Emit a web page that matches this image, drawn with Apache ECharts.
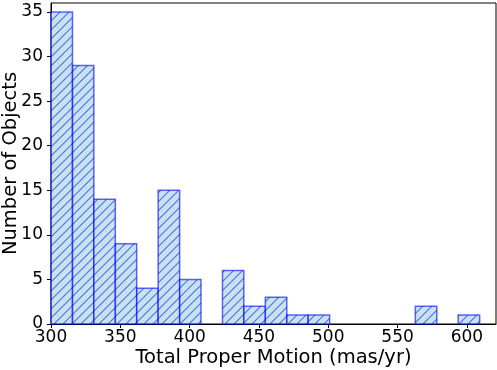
<!DOCTYPE html>
<html>
<head>
<meta charset="utf-8">
<script src="https://cdn.jsdelivr.net/npm/echarts@6/dist/echarts.min.js"></script>
<style>
html,body{margin:0;padding:0;background:#fff;}
#chart{width:497px;height:370px;}
</style>
</head>
<body>
<div id="chart"></div>
<script>
// Histogram bin edges (mas/yr) and counts
const binEdges = [300, 315.5, 330.9, 346.4, 361.8, 377.3, 392.8, 408.2, 423.7, 439.1, 454.6, 470.1, 485.5, 501.0, 516.4, 531.9, 547.4, 562.8, 578.3, 593.7, 609.2];
const counts = [35, 29, 14, 9, 4, 15, 5, 0, 6, 2, 3, 1, 1, 0, 0, 0, 0, 2, 0, 1];
const xTicks = [300, 350, 400, 450, 500, 550, 600];
const yTicks = [0, 5, 10, 15, 20, 25, 30, 35];

const data = counts.map((c, i) => [binEdges[i], binEdges[i + 1], c]);

// hatch pattern tile
const tile = document.createElement('canvas');
const T = 9;
tile.width = T; tile.height = T;
const ctx = tile.getContext('2d');
ctx.fillStyle = 'rgba(173,216,230,0.7)';
ctx.fillRect(0, 0, T, T);
ctx.strokeStyle = 'rgba(0,0,255,0.55)';
ctx.lineWidth = 1.1;
ctx.beginPath();
ctx.moveTo(0, T); ctx.lineTo(T, 0);
ctx.moveTo(-1, 1); ctx.lineTo(1, -1);
ctx.moveTo(T - 1, T + 1); ctx.lineTo(T + 1, T - 1);
ctx.stroke();

const font = 'DejaVu Sans';
const chart = echarts.init(document.getElementById('chart'), null, {renderer: 'canvas'});
chart.setOption({
  animation: false,
  backgroundColor: '#fff',
  grid: {left: 51, right: 1, top: 3, bottom: 46, containLabel: false, outerBoundsMode: 'none',
    show: true, borderColor: '#000', borderWidth: 1, backgroundColor: 'transparent'},
  xAxis: {
    type: 'value', min: 300, max: 621, interval: 50,
    name: 'Total Proper Motion (mas/yr)', nameLocation: 'middle', nameGap: 24, nameMoveOverlap: false,
    nameTextStyle: {fontFamily: font, fontSize: 19.5, color: '#000'},
    axisLine: {show: true, onZero: false, lineStyle: {color: '#000', width: 1}},
    axisTick: {show: true, inside: false, length: 4, lineStyle: {color: '#000'}},
    axisLabel: {fontFamily: font, fontSize: 17, color: '#000', margin: 5, showMaxLabel: false,
      formatter: v => xTicks.includes(v) ? String(v) : ''},
    splitLine: {show: false}
  },
  yAxis: {
    type: 'value', min: 0, max: 36, interval: 5,
    name: 'Number of Objects', nameLocation: 'middle', nameGap: 30.5, nameMoveOverlap: false,
    nameTextStyle: {fontFamily: font, fontSize: 19.5, color: '#000'},
    axisLine: {show: true, lineStyle: {color: '#000', width: 1}},
    axisTick: {show: true, inside: false, length: 4, lineStyle: {color: '#000'}},
    axisLabel: {fontFamily: font, fontSize: 17, color: '#000', margin: 8, showMaxLabel: false,
      formatter: v => yTicks.includes(v) ? String(v) : ''},
    splitLine: {show: false}
  },
  series: [{
    type: 'custom',
    data: data,
    encode: {x: [0, 1], y: 2},
    renderItem: function (params, api) {
      const c = api.value(2);
      if (!c) return null;
      const p0 = api.coord([api.value(0), c]);
      const p1 = api.coord([api.value(1), 0]);
      return {
        type: 'rect',
        shape: {x: p0[0], y: p0[1], width: p1[0] - p0[0], height: p1[1] - p0[1]},
        style: {fill: {image: tile, repeat: 'repeat'}, stroke: 'rgba(0,0,255,0.6)', lineWidth: 1.5}
      };
    }
  }]
});
</script>
</body>
</html>
